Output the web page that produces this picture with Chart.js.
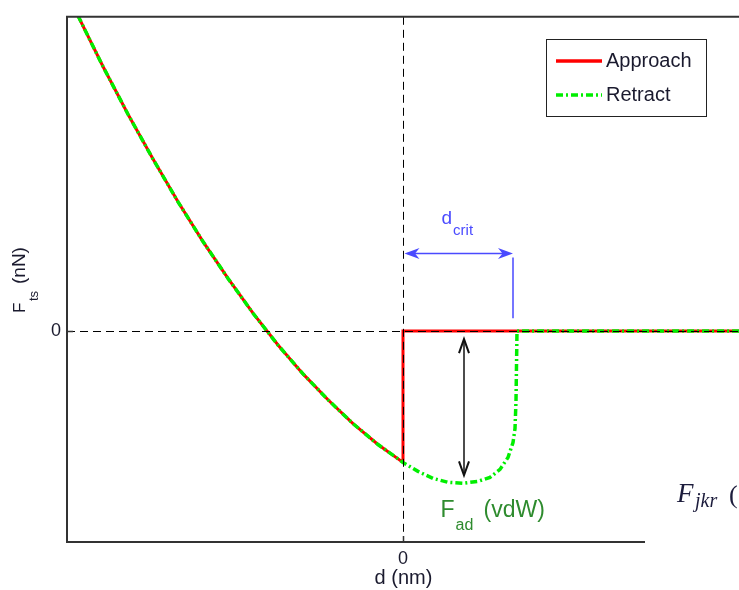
<!DOCTYPE html>
<html>
<head>
<meta charset="utf-8">
<script src="https://cdn.jsdelivr.net/npm/chart.js@4.4.0/dist/chart.umd.min.js"></script>
<style>
  html, body { margin: 0; padding: 0; background: #fff; overflow: hidden; }
  #wrap { width: 760px; height: 590px; }
</style>
</head>
<body>
<div id="wrap"><canvas id="forceChart" width="760" height="590"></canvas></div>
<script>
// Force-distance curve, values (arbitrary units)
const approachX = [-3.25, -3.00, -2.75, -2.50, -2.25, -2.00, -1.75, -1.50, -1.25, -1.00, -0.75, -0.50, -0.25, 0, 0, 3.50];
const approachY = [3.17, 2.66, 2.18, 1.73, 1.30, 0.90, 0.53, 0.18, -0.14, -0.43, -0.69, -0.93, -1.14, -1.32, 0, 0];

const retractX = [-3.25, -3.00, -2.75, -2.50, -2.25, -2.00, -1.75, -1.50, -1.25, -1.00, -0.75, -0.50, -0.25, 0,
  0.15, 0.30, 0.45, 0.60, 0.75, 0.87, 0.97, 1.05, 1.10, 1.12, 1.13, 1.14, 3.50];
const retractY = [3.17, 2.66, 2.18, 1.73, 1.30, 0.90, 0.53, 0.18, -0.14, -0.43, -0.69, -0.93, -1.14, -1.32,
  -1.41, -1.48, -1.52, -1.53, -1.51, -1.47, -1.39, -1.27, -1.12, -0.98, -0.70, 0, 0];

const xTicks = [0];
const yTicks = [0];
const xRange = [-3.36, 3.47];
const yRange = [-2.12, 3.16];

// annotation anchors (data units)
const dCrit = 1.10;
const dCritArrowY = 0.78;
const dCritLine = [0.74, 0.13];
const adhesionX = 0.61;
const adhesionArrow = [-0.08, -1.45];

const RED = '#ff0000';
const GREEN = '#00ee00';
const GREEN_DASH = [7, 3, 2, 3];
const SANS = '"Liberation Sans", Arial, sans-serif';
const SERIF = '"Liberation Serif", "DejaVu Serif", serif';

function toPoints(xs, ys) {
  return xs.map((x, i) => ({ x, y: ys[i] }));
}

function drawArrowHead(ctx, x, y, angle, len, width, filled) {
  ctx.save();
  ctx.translate(x, y);
  ctx.rotate(angle);
  ctx.beginPath();
  if (filled) {
    ctx.moveTo(0, 0);
    ctx.lineTo(-len, -width);
    ctx.lineTo(-len * 0.7, 0);
    ctx.lineTo(-len, width);
    ctx.closePath();
    ctx.fill();
  } else {
    ctx.moveTo(-len, -width);
    ctx.lineTo(0, 0);
    ctx.lineTo(-len, width);
    ctx.stroke();
  }
  ctx.restore();
}

function subText(ctx, x, y, main, sub, size, subSize, drop) {
  ctx.font = size + 'px ' + SANS;
  ctx.fillText(main, x, y);
  const w = ctx.measureText(main).width;
  ctx.font = subSize + 'px ' + SANS;
  ctx.fillText(sub, x + w + 1, y + drop);
  return x + w + 1 + ctx.measureText(sub).width;
}

const overlay = {
  id: 'overlay',
  afterDatasetsDraw(chart) {
    const { ctx, chartArea: a, scales: { x, y } } = chart;
    const x0 = Math.round(x.getPixelForValue(0)) + 0.5;
    const y0 = Math.round(y.getPixelForValue(0)) + 0.5;
    ctx.save();

    // zero reference lines
    ctx.strokeStyle = '#000';
    ctx.lineWidth = 1;
    ctx.setLineDash([8, 5]);
    ctx.beginPath();
    ctx.moveTo(a.left, y0); ctx.lineTo(a.right, y0);
    ctx.moveTo(x0, a.top); ctx.lineTo(x0, a.bottom);
    ctx.stroke();
    ctx.setLineDash([]);

    // axes frame
    ctx.strokeStyle = '#333';
    ctx.lineWidth = 2;
    ctx.beginPath();
    ctx.moveTo(a.right, a.top);
    ctx.lineTo(a.left, a.top);
    ctx.lineTo(a.left, a.bottom);
    ctx.lineTo(a.right, a.bottom);
    ctx.stroke();
    ctx.lineWidth = 1.5;
    ctx.beginPath();
    ctx.moveTo(x0, a.bottom); ctx.lineTo(x0, a.bottom - 6);
    ctx.moveTo(a.left, y0); ctx.lineTo(a.left + 6, y0);
    ctx.stroke();

    // d_crit arrow
    const xc = x.getPixelForValue(dCrit);
    const ya = y.getPixelForValue(dCritArrowY);
    ctx.strokeStyle = '#4a4aff';
    ctx.fillStyle = '#4a4aff';
    ctx.lineWidth = 1.5;
    ctx.beginPath();
    ctx.moveTo(x0 + 4, ya); ctx.lineTo(xc - 4, ya);
    ctx.moveTo(xc, y.getPixelForValue(dCritLine[0]));
    ctx.lineTo(xc, y.getPixelForValue(dCritLine[1]));
    ctx.stroke();
    drawArrowHead(ctx, x0 + 1, ya, Math.PI, 15, 5.5, true);
    drawArrowHead(ctx, xc, ya, 0, 15, 5.5, true);
    ctx.textBaseline = 'alphabetic';
    ctx.textAlign = 'left';
    subText(ctx, x0 + 38, y0 - 108, 'd', 'crit', 19, 15, 11);

    // adhesion arrow
    const xa = x.getPixelForValue(adhesionX);
    const yTop = y.getPixelForValue(adhesionArrow[0]);
    const yBot = y.getPixelForValue(adhesionArrow[1]);
    ctx.strokeStyle = '#111';
    ctx.lineWidth = 1.5;
    ctx.beginPath();
    ctx.moveTo(xa, yTop); ctx.lineTo(xa, yBot);
    ctx.stroke();
    ctx.lineWidth = 2;
    drawArrowHead(ctx, xa, yTop, -Math.PI / 2, 14, 5, false);
    drawArrowHead(ctx, xa, yBot, Math.PI / 2, 14, 5, false);

    // F_ad (vdW)
    ctx.fillStyle = '#2e8b2e';
    subText(ctx, x0 + 37, y0 + 185, 'F', 'ad', 23, 16, 13);
    ctx.font = '23px ' + SANS;
    ctx.fillText('(vdW)', x0 + 80, y0 + 185);

    // legend
    ctx.fillStyle = '#fff';
    ctx.fillRect(546.5, 39.5, 160, 77);
    ctx.strokeStyle = '#222';
    ctx.lineWidth = 1;
    ctx.strokeRect(546.5, 39.5, 160, 77);
    ctx.lineWidth = 3.5;
    ctx.strokeStyle = RED;
    ctx.beginPath(); ctx.moveTo(556, 61); ctx.lineTo(602, 61); ctx.stroke();
    ctx.strokeStyle = GREEN;
    ctx.setLineDash(GREEN_DASH);
    ctx.beginPath(); ctx.moveTo(556, 95); ctx.lineTo(602, 95); ctx.stroke();
    ctx.setLineDash([]);
    ctx.fillStyle = '#1a1a2e';
    ctx.font = '20px ' + SANS;
    ctx.textBaseline = 'middle';
    ctx.fillText('Approach', 606, 61);
    ctx.fillText('Retract', 606, 95);

    // axis titles
    ctx.textBaseline = 'alphabetic';
    ctx.textAlign = 'center';
    ctx.font = '20px ' + SANS;
    ctx.fillText('d (nm)', x0, 584);
    ctx.textAlign = 'left';
    ctx.save();
    ctx.translate(25, 313);
    ctx.rotate(-Math.PI / 2);
    ctx.font = '17px ' + SANS;
    ctx.fillText('F', 0, 0);
    ctx.font = '13px ' + SANS;
    ctx.fillText('ts', 12, 13);
    ctx.font = '19px ' + SANS;
    ctx.fillText('(nN)', 29, 0);
    ctx.restore();

    ctx.restore();
  },
  afterDraw(chart) {
    // cropped neighbour figure at the lower right
    const { ctx } = chart;
    ctx.save();
    ctx.fillStyle = '#fff';
    ctx.fillRect(645, 466, 120, 130);
    ctx.fillStyle = '#1c1c3c';
    ctx.font = 'italic 27px ' + SERIF;
    ctx.fillText('F', 677, 502);
    ctx.font = 'italic 20px ' + SERIF;
    ctx.fillText('jkr', 695, 507);
    ctx.font = '26px ' + SERIF;
    ctx.fillText('(', 729, 503);
    ctx.restore();
  }
};

new Chart(document.getElementById('forceChart').getContext('2d'), {
  type: 'line',
  data: {
    datasets: [
      {
        label: 'Approach',
        data: toPoints(approachX, approachY),
        borderColor: RED,
        borderWidth: 3,
        tension: 0,
        order: 2
      },
      {
        label: 'Retract',
        data: toPoints(retractX, retractY),
        borderColor: GREEN,
        borderWidth: 3.5,
        borderDash: GREEN_DASH,
        tension: 0,
        order: 1
      }
    ]
  },
  options: {
    responsive: false,
    animation: false,
    layout: { padding: { top: 14, right: 10, left: 0, bottom: 0 } },
    elements: { point: { radius: 0 } },
    plugins: {
      legend: { display: false },
      tooltip: { enabled: false }
    },
    scales: {
      x: {
        type: 'linear',
        min: xRange[0],
        max: xRange[1],
        afterBuildTicks: (s) => { s.ticks = xTicks.map(v => ({ value: v })); },
        afterFit: (s) => { s.height = 48; },
        grid: { display: false, drawTicks: false },
        border: { display: false },
        ticks: { font: { size: 18, family: SANS }, color: '#1a1a2e', padding: 6 }
      },
      y: {
        type: 'linear',
        min: yRange[0],
        max: yRange[1],
        afterBuildTicks: (s) => { s.ticks = yTicks.map(v => ({ value: v })); },
        afterFit: (s) => { s.width = 67; },
        grid: { display: false, drawTicks: false },
        border: { display: false },
        ticks: { font: { size: 18, family: SANS }, color: '#1a1a2e', padding: 6 }
      }
    }
  },
  plugins: [overlay]
});
</script>
</body>
</html>
